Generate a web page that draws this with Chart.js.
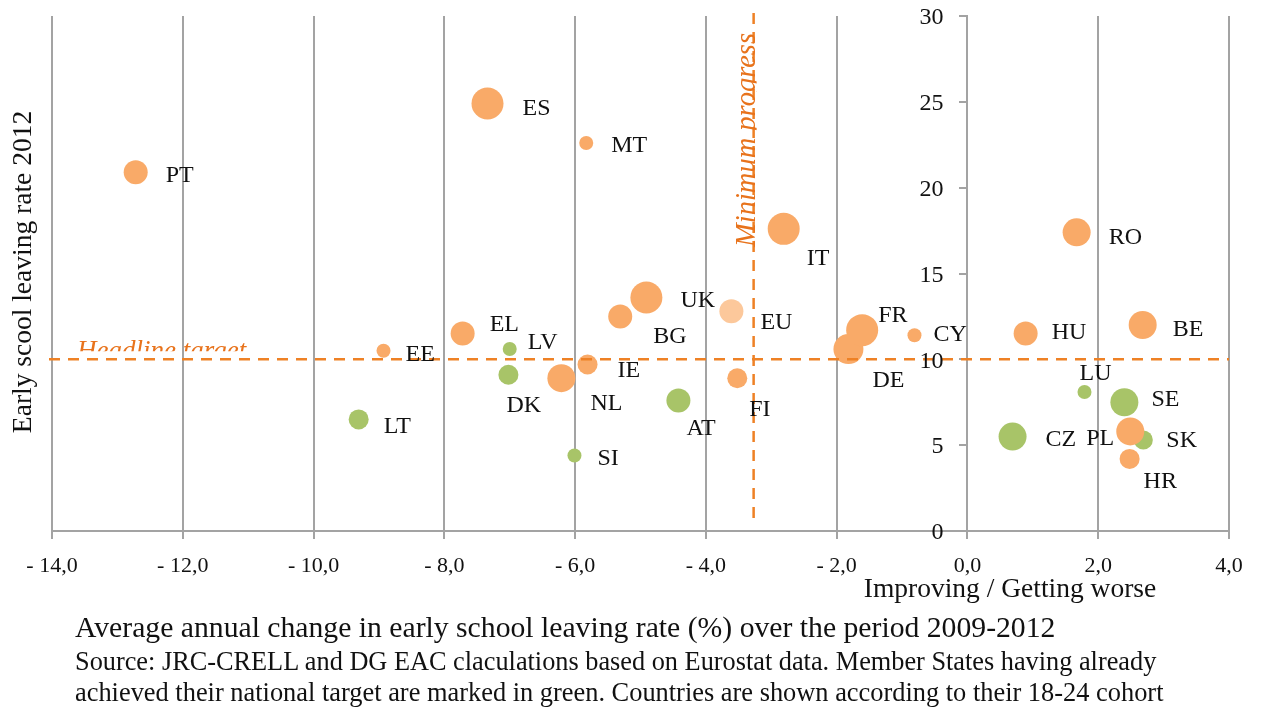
<!DOCTYPE html>
<html>
<head>
<meta charset="utf-8">
<script src="https://cdn.jsdelivr.net/npm/chart.js@4/dist/chart.umd.min.js"></script>
<style>
  html, body { margin:0; padding:0; background:#fff; }
  #wrap { position:relative; width:1261px; height:709px; overflow:hidden; }
  #c { position:absolute; left:0; top:0; }
  .cap { position:absolute; left:75px; font-family:"Liberation Serif", "Times New Roman", serif; color:#111; white-space:nowrap; line-height:1; }
</style>
</head>
<body>
<div id="wrap">
  <canvas id="c" width="1261" height="709"></canvas>
  <div class="cap" style="top:613px;font-size:29.7px;">Average annual change in early school leaving rate (%) over the period 2009-2012</div>
  <div class="cap" style="top:649px;font-size:26.3px;">Source: JRC-CRELL and DG EAC claculations based on Eurostat data. Member States having already</div>
  <div class="cap" style="top:679px;font-size:26.4px;">achieved their national target are marked in green. Countries are shown according to their 18-24 cohort</div>
</div>
<script>
// ---- data ----
const countries   = ['PT','ES','MT','IT','RO','UK','BG','EU','EL','EE','LV','DK','NL','IE','AT','FI','SI','LT','DE','FR','CY','HU','BE','LU','SE','CZ','SK','PL','HR'];
const annualChange = [-12.72,-7.34,-5.83,-2.81,1.67,-4.91,-5.31,-3.61,-7.72,-8.93,-7.0,-7.02,-6.21,-5.81,-4.42,-3.52,-6.01,-9.31,-1.82,-1.61,-0.81,0.89,2.68,1.79,2.40,0.69,2.69,2.49,2.48];
const leavingRate  = [20.9,24.9,22.6,17.6,17.4,13.6,12.5,12.8,11.5,10.5,10.6,9.1,8.9,9.7,7.6,8.9,4.4,6.5,10.6,11.7,11.4,11.5,12.0,8.1,7.5,5.5,5.3,5.8,4.2];
const cohortSize   = [12,16,7,16,14,16,12,12,12,7,7,10,14,10,12,10,7,10,15,16,7,12,14,7,14,14,9.5,14,10];
const status       = ['o','o','o','o','o','o','o','eu','o','o','g','g','o','o','g','o','g','g','o','o','o','o','o','g','g','g','g','o','o'];
const xTicks = [-14,-12,-10,-8,-6,-4,-2,0,2,4];
const yTicks = [0,5,10,15,20,25,30];
const headlineTarget = 10;
const minimumProgress = -3.27;

// ---- styling / label placement ----
const colorMap = { o:'#F9AA68', g:'#A8C468', eu:'#FCC89B' };
const labelOffset = {
  PT:[30,3], ES:[35,5], MT:[25,3], IT:[23,30], RO:[32,5], UK:[34,3], BG:[33,20], EU:[29,11],
  EL:[27,-9], EE:[22,4], LV:[18,-6], DK:[-2,31], NL:[29,25], IE:[30,6], AT:[8,28], FI:[12,31],
  SI:[23,3], LT:[25,7], DE:[24,32], FR:[16,-14], CY:[19,-1], HU:[26,-1], BE:[30,5], LU:[-5,-18],
  SE:[27,-3], CZ:[33,3], SK:[23,1], PL:[-44,7], HR:[14,23]
};
const ORANGE_LINE = '#EE8125';
const ORANGE_TEXT = '#E8731C';
const GRID = '#A3A3A3';
const SERIF = '"Liberation Serif", "Times New Roman", serif';

const fmtX = v => (v < 0 ? '- ' + Math.abs(v).toFixed(1) : v.toFixed(1)).replace('.', ',');

const points = countries.map((c, i) => ({ x: annualChange[i], y: leavingRate[i], r: cohortSize[i] }));

const overlay = {
  id: 'overlay',
  afterDatasetsDraw(chart) {
    const ctx = chart.ctx, xs = chart.scales.x, ys = chart.scales.y, ca = chart.chartArea;
    ctx.save();
    // reference lines
    ctx.strokeStyle = ORANGE_LINE; ctx.lineWidth = 2.5; ctx.setLineDash([11, 8]);
    const yH = ys.getPixelForValue(headlineTarget);
    ctx.beginPath(); ctx.moveTo(ca.left - 3, yH); ctx.lineTo(ca.right, yH); ctx.stroke();
    const xV = xs.getPixelForValue(minimumProgress);
    ctx.beginPath(); ctx.moveTo(xV, ca.top - 3); ctx.lineTo(xV, ca.bottom - 6); ctx.stroke();
    ctx.setLineDash([]);
    // annotation texts (partially hidden as in the original)
    ctx.fillStyle = ORANGE_TEXT;
    ctx.save();
    ctx.font = 'italic 27px ' + SERIF;
    ctx.beginPath(); ctx.rect(0, 0, 1261, yH - 8); ctx.clip();
    ctx.textAlign = 'left'; ctx.textBaseline = 'alphabetic';
    ctx.fillText('Headline target', 77, yH);
    ctx.restore();
    ctx.save();
    ctx.font = 'italic 28.5px ' + SERIF;
    ctx.beginPath(); ctx.rect(0, 0, xV + 3, 709); ctx.clip();
    ctx.translate(xV + 1, 247); ctx.rotate(-Math.PI / 2);
    ctx.textAlign = 'left'; ctx.textBaseline = 'alphabetic';
    ctx.fillText('Minimum progress', 0, 0);
    ctx.restore();
    // y tick labels, placed left of the centred y axis
    ctx.fillStyle = '#111';
    ctx.font = '24px ' + SERIF;
    ctx.textAlign = 'right'; ctx.textBaseline = 'middle';
    const yAxisX = xs.getPixelForValue(0);
    ys.ticks.forEach(t => {
      ctx.fillText(String(t.value), yAxisX - 24, ys.getPixelForValue(t.value) + 2);
    });
    // country labels
    ctx.font = '24px ' + SERIF;
    ctx.textAlign = 'left'; ctx.textBaseline = 'middle';
    const meta = chart.getDatasetMeta(0);
    meta.data.forEach((el, i) => {
      const off = labelOffset[countries[i]];
      ctx.fillText(countries[i], el.x + off[0], el.y + off[1]);
    });
    // axis titles
    ctx.font = '27.5px ' + SERIF;
    ctx.textAlign = 'center'; ctx.textBaseline = 'middle';
    ctx.fillText('Improving / Getting worse', 1010, 590);
    ctx.save();
    ctx.translate(24, 272); ctx.rotate(-Math.PI / 2);
    ctx.fillText('Early scool leaving rate 2012', 0, 0);
    ctx.restore();
    ctx.restore();
  }
};

new Chart(document.getElementById('c'), {
  type: 'bubble',
  data: {
    datasets: [{
      data: points,
      backgroundColor: status.map(s => colorMap[s]),
      borderWidth: 0,
      hoverBorderWidth: 0
    }]
  },
  options: {
    responsive: false,
    animation: false,
    events: [],
    layout: { padding: { left: 52, right: 32, top: 15, bottom: 133 } },
    plugins: { legend: { display: false }, tooltip: { enabled: false } },
    scales: {
      x: {
        type: 'linear', min: -14, max: 4,
        afterBuildTicks: s => { s.ticks = xTicks.map(v => ({ value: v })); },
        afterFit: s => { s.height = 45; },
        ticks: { callback: v => fmtX(v), color: '#111', font: { family: SERIF, size: 22 }, padding: 14, maxRotation: 0, autoSkip: false },
        grid: { color: GRID, lineWidth: 2, tickLength: 8, drawTicks: true },
        border: { color: GRID, width: 2 }
      },
      y: {
        type: 'linear', min: 0, max: 30, position: { x: 0 },
        afterBuildTicks: s => { s.ticks = yTicks.map(v => ({ value: v })); },
        afterFit: s => { s.width = 0; },
        ticks: { display: false },
        grid: { drawOnChartArea: false, color: GRID, lineWidth: 2, tickLength: 7, drawTicks: true },
        border: { color: GRID, width: 2 }
      }
    }
  },
  plugins: [overlay]
});
</script>
</body>
</html>
